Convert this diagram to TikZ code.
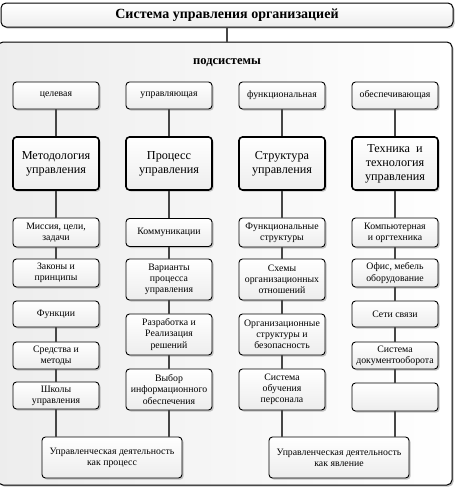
\documentclass[tikz,border=0pt]{standalone}
\usepackage{fontspec}
\setmainfont{Liberation Serif}
\usetikzlibrary{shadows,shadings}
\begin{document}
\begin{tikzpicture}[x=1pt,y=-1pt,
  shad/.style={drop shadow={shadow xshift=1.6pt,shadow yshift=-1.6pt,opacity=0.6,fill=gray!75}},
  sbox/.style={draw,line width=0.9pt,rounded corners=3.5pt,top color=white,bottom color=gray!14,shad,
    minimum width=86pt,inner sep=1pt,align=center,font=\fontsize{9.8}{11.2}\selectfont},
  mbox/.style={sbox,line width=1.6pt,font=\fontsize{12.2}{14}\selectfont},
  conn/.style={draw=gray!55!black,line width=1.1pt}]
\useasboundingbox (0,0) rectangle (456,491);
% outer frame
\node[draw,line width=1pt,rounded corners=5pt,left color=gray!14,right color=white,shad,
  minimum width=454pt,minimum height=443pt,inner sep=0pt] (frame) at (225,263.5) {};
\node[draw,line width=1pt,rounded corners=5pt,top color=white,bottom color=gray!14,shad,
  minimum width=452pt,minimum height=24pt,inner sep=0pt,font=\bfseries\fontsize{14}{16}\selectfont] (top) at (227,15) {Система управления организацией};
\node[font=\bfseries\fontsize{12.5}{14}\selectfont] (sub) at (227,63) {подсистемы};
\draw[conn] (top.south) -- (top.south |- frame.north);
% row 1
\node[sbox,minimum height=27pt] (a1) at (56,95.5) {целевая};
\node[sbox,minimum height=27pt] (a2) at (169,95.5) {управляющая};
\node[sbox,minimum height=27pt] (a3) at (282,95.5) {функциональная};
\node[sbox,minimum height=27pt] (a4) at (395,95.5) {обеспечивающая};
% row 2
\node[mbox,minimum height=53pt] (b1) at (56,163.5) {Методология\\управления};
\node[mbox,minimum height=53pt] (b2) at (169,163.5) {Процесс\\управления};
\node[mbox,minimum height=53pt] (b3) at (282,163.5) {Структура\\управления};
\node[mbox,minimum height=53pt] (b4) at (395,163.5) {Техника\ \ и\\технология\\управления};
% column 1
\node[sbox,minimum height=29pt] (c11) at (56,232.5) {Миссия, цели,\\задачи};
\node[sbox,minimum height=28pt] (c12) at (56,273) {Законы и\\принципы};
\node[sbox,minimum height=26pt] (c13) at (56,314) {Функции};
\node[sbox,minimum height=27pt] (c14) at (56,355.5) {Средства и\\методы};
\node[sbox,minimum height=27pt] (c15) at (56,395.5) {Школы\\управления};
% column 2
\node[sbox,minimum height=28pt] (c21) at (169,232.5) {Коммуникации};
\node[sbox,minimum height=41pt] (c22) at (169,279.5) {Варианты\\процесса\\управления};
\node[sbox,minimum height=41pt] (c23) at (169,334.5) {Разработка и\\Реализация\\решений};
\node[sbox,minimum height=41pt] (c24) at (169,389.5) {Выбор\\информационного\\обеспечения};
% column 3
\node[sbox,minimum height=29pt] (c31) at (282,232.5) {Функциональные\\структуры};
\node[sbox,minimum height=41pt] (c32) at (282,279.5) {Схемы\\организационных\\отношений};
\node[sbox,minimum height=41pt] (c33) at (282,334.5) {Организационные\\структуры и\\безопасность};
\node[sbox,minimum height=41pt] (c34) at (282,389.5) {Система\\обучения\\персонала};
% column 4
\node[sbox,minimum height=29pt] (c41) at (395,232.5) {Компьютерная\\и оргтехника};
\node[sbox,minimum height=28pt] (c42) at (395,273) {Офис, мебель\\оборудование};
\node[sbox,minimum height=26pt] (c43) at (395,314) {Сети связи};
\node[sbox,minimum height=27pt] (c44) at (395,355.5) {Система\\документооборота};
\node[sbox,minimum height=28pt] (c45) at (395,397) {};
% bottom
\node[sbox,minimum width=140pt,minimum height=41pt] (p1) at (112,457.5) {Управленческая деятельность\\как процесс};
\node[sbox,minimum width=140pt,minimum height=41pt] (p2) at (339,457.5) {Управленческая деятельность\\как явление};
% connectors
\foreach \i in {1,2,3,4} {
  \draw[conn] (a\i.south) -- (b\i.north);
  \draw[conn] (b\i.south) -- (c\i1.north);
}
\draw[conn] (c11.south) -- (c12.north);
\draw[conn] (c13.south) -- (c14.north);
\draw[conn] (c14.south) -- (c15.north);
\draw[conn] (c21.south) -- (c22.north);
\draw[conn] (c22.south) -- (c23.north);
\draw[conn] (c23.south) -- (c24.north);
\draw[conn] (c31.south) -- (c32.north);
\draw[conn] (c32.south) -- (c33.north);
\draw[conn] (c33.south) -- (c34.north);
\draw[conn] (c41.south) -- (c42.north);
\draw[conn] (c42.south) -- (c43.north);
\draw[conn] (c43.south) -- (c44.north);
\draw[conn] (c44.south) -- (c45.north);
\draw[conn] (c15.south) -- (c15.south |- p1.north);
\draw[conn] (c24.south) -- (c24.south |- p1.north);
\draw[conn] (c34.south) -- (c34.south |- p2.north);
\draw[conn] (c45.south) -- (c45.south |- p2.north);
\end{tikzpicture}
\end{document}
